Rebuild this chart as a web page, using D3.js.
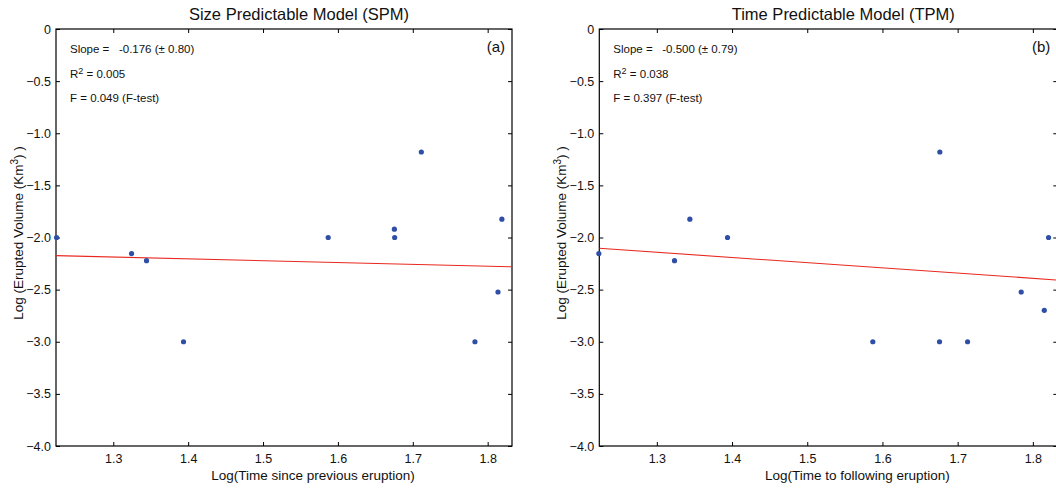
<!DOCTYPE html>
<html>
<head>
<meta charset="utf-8">
<script src="https://cdn.jsdelivr.net/npm/d3@7"></script>
<style>
    body { margin: 0; background: #fff; }
    svg { display: block; font-family: "Liberation Sans", Arial, sans-serif; }
    .axis-line { fill: none; stroke: #000; stroke-width: 1.2; }
    .tick-mark { stroke: #000; stroke-width: 1; }
    .stat { white-space: pre; }
</style>
</head>
<body>
<div id="chart"></div>
<script>
    // Log(time) / Log(volume) values
    var spmTime   = [1.2243, 1.3244, 1.3444, 1.3938, 1.587, 1.6754, 1.6758, 1.7114, 1.783, 1.8138, 1.819];
    var spmVolume = [-2.0, -2.155, -2.222, -3.0, -2.0, -1.92, -2.0, -1.18, -3.0, -2.523, -1.824];

    var tpmTime   = [1.2229, 1.3235, 1.3439, 1.394, 1.5872, 1.6759, 1.6763, 1.7132, 1.7845, 1.8152, 1.8209];
    var tpmVolume = [-2.155, -2.222, -1.824, -2.0, -3.0, -3.0, -1.18, -3.0, -2.523, -2.699, -2.0];

    // regression [slope, intercept]
    var spmFit = [-0.176, -1.9585];
    var tpmFit = [-0.500, -1.4916];

    var xTicks = [1.3, 1.4, 1.5, 1.6, 1.7, 1.8];
    var yTicks = [0, -0.5, -1.0, -1.5, -2.0, -2.5, -3.0, -3.5, -4.0];

    var titles = ["Size Predictable Model (SPM)", "Time Predictable Model (TPM)"];
    var xLabels = ["Log(Time since previous eruption)", "Log(Time to following eruption)"];
    var panelTags = ["(a)", "(b)"];
    var slopeText = ["-0.176 (\u00b1 0.80)", "-0.500 (\u00b1 0.79)"];
    var r2Text = ["0.005", "0.038"];
    var fText = ["0.049 (F-test)", "0.397 (F-test)"];

    var W = 1056, H = 489;
    var svg = d3.select("#chart").append("svg")
            .attr("width", W)
            .attr("height", H);

    var panels = [
        {left: 56, width: 456, time: spmTime, vol: spmVolume, fit: spmFit},
        {left: 599.3, width: 458, time: tpmTime, vol: tpmVolume, fit: tpmFit}
    ];
    var plotTop = 29, plotHeight = 417;

    panels.forEach(function (p, i) {
        var x = d3.scaleLinear().domain([1.2235, 1.8325]).range([0, p.width]);
        var y = d3.scaleLinear().domain([-4, 0]).range([plotHeight, 0]);

        var g = svg.append("g")
                .attr("transform", "translate(" + p.left + "," + plotTop + ")");

        g.append("clipPath").attr("id", "clip" + i)
                .append("rect").attr("width", p.width).attr("height", plotHeight);

        // ticks pointing inward on all four sides
        var tickLen = 4;
        var xAxisB = d3.axisBottom(x).tickValues(xTicks).tickSize(-tickLen).tickPadding(8)
                .tickFormat(d3.format(".1f"));
        var xAxisT = d3.axisTop(x).tickValues(xTicks).tickSize(-tickLen).tickFormat("");
        var yAxisL = d3.axisLeft(y).tickValues(yTicks).tickSize(-tickLen).tickPadding(5)
                .tickFormat(function (d) { return d === 0 ? "0" : d3.format(".1f")(d); });
        var yAxisR = d3.axisRight(y).tickValues(yTicks).tickSize(-tickLen).tickFormat("");

        function styleAxis(sel) {
            sel.select(".domain").remove();
            sel.selectAll(".tick line").attr("class", "tick-mark");
            sel.selectAll(".tick text")
                    .style("font-family", "'Liberation Sans', Arial, sans-serif")
                    .style("font-size", "12.5px")
                    .attr("fill", "#111");
        }

        g.append("g").attr("transform", "translate(0," + plotHeight + ")").call(xAxisB).call(styleAxis);
        g.append("g").call(xAxisT).call(styleAxis);
        g.append("g").call(yAxisL).call(styleAxis);
        g.append("g").attr("transform", "translate(" + p.width + ",0)").call(yAxisR).call(styleAxis);

        g.append("rect")
                .attr("class", "axis-line")
                .attr("width", p.width)
                .attr("height", plotHeight);

        // fit line
        var line = d3.line()
                .x(function (d) { return x(d); })
                .y(function (d) { return y(p.fit[1] + p.fit[0] * d); });
        g.append("path")
                .datum(x.domain())
                .attr("d", line)
                .attr("clip-path", "url(#clip" + i + ")")
                .attr("fill", "none")
                .attr("stroke", "#e8281e")
                .attr("stroke-width", 1.1);

        // points
        g.selectAll(".dot")
                .data(p.time.map(function (t, k) { return [t, p.vol[k]]; }))
                .enter().append("circle")
                .attr("class", "dot")
                .attr("cx", function (d) { return x(d[0]); })
                .attr("cy", function (d) { return y(d[1]); })
                .attr("r", 2.6)
                .attr("fill", "#2f4ea6");

        // title and axis labels
        svg.append("text")
                .attr("x", p.left + p.width / 2 + 15)
                .attr("y", 20)
                .attr("text-anchor", "middle")
                .style("font-size", "16.5px")
                .attr("fill", "#111")
                .text(titles[i]);

        svg.append("text")
                .attr("x", p.left + p.width / 2 + 29)
                .attr("y", 480)
                .attr("text-anchor", "middle")
                .style("font-size", "13.5px")
                .attr("fill", "#111")
                .text(xLabels[i]);

        var yl = svg.append("text")
                .attr("transform", "translate(" + (p.left - 33) + "," + (plotTop + 204) + ") rotate(-90)")
                .attr("text-anchor", "middle")
                .style("font-size", "13.5px")
                .attr("fill", "#111");
        yl.append("tspan").text("Log (Erupted Volume (Km");
        yl.append("tspan").attr("dy", -5).style("font-size", "10px").text("3");
        yl.append("tspan").attr("dy", 5).text(") )");

        // stats block
        var ann = g.append("g").style("font-size", "11.5px").attr("fill", "#111");
        ann.append("text").attr("class", "stat").attr("x", 14).attr("y", 24)
                .text("Slope =   " + slopeText[i]);
        var r2 = ann.append("text").attr("x", 14).attr("y", 49);
        r2.append("tspan").text("R");
        r2.append("tspan").attr("dy", -4).style("font-size", "9px").text("2");
        r2.append("tspan").attr("dy", 4).text(" = " + r2Text[i]);
        ann.append("text").attr("x", 14).attr("y", 73).text("F = " + fText[i]);

        g.append("text")
                .attr("x", p.width - 7)
                .attr("y", 23)
                .attr("text-anchor", "end")
                .style("font-size", "15px")
                .attr("fill", "#111")
                .text(panelTags[i]);
    });
</script>
</body>
</html>
